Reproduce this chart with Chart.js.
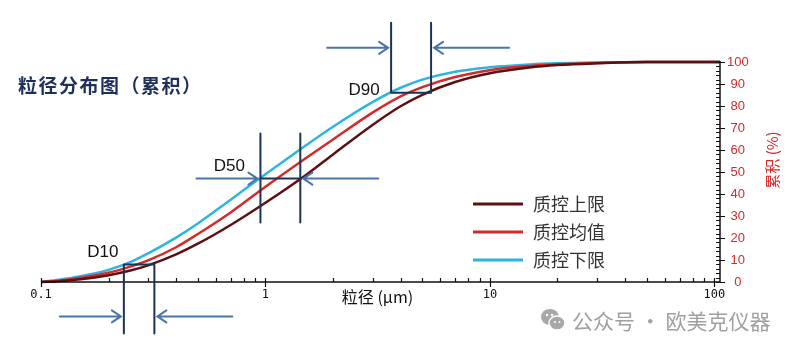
<!DOCTYPE html>
<html lang="zh-CN">
<head>
<meta charset="utf-8"/>
<title>粒径分布图（累积）</title>
<script src="https://cdn.jsdelivr.net/npm/chart.js@4.4.0/dist/chart.umd.min.js"></script>
<style>
    * { margin: 0; padding: 0; box-sizing: border-box; }
    body { width: 800px; height: 350px; background: #fff; overflow: hidden; font-family: "Noto Sans CJK SC", sans-serif; }
    .wrap { position: relative; width: 800px; height: 350px; }
    #psd { position: absolute; left: 0; top: 0; }
    .title { position: absolute; left: 18px; top: 72px; font-size: 19px; font-weight: 700; color: #1f2f5c; letter-spacing: 1.5px; line-height: 26px; }
    .mark { position: absolute; left: 540px; top: 305px; height: 30px; display: flex; align-items: center; color: #a0a0a0; font-size: 21px; white-space: nowrap; }
    .mark svg { margin-right: 6px; }
</style>
</head>
<body>
<div class="wrap">
    <canvas id="psd" width="800" height="350"></canvas>
    <div class="title">粒径分布图（累积）</div>
    <div class="mark">
        <svg width="26" height="24" viewBox="0 0 26 24">
            <ellipse cx="10" cy="9" rx="9" ry="8" fill="#a8a8a8"/>
            <ellipse cx="17" cy="15" rx="8" ry="7" fill="#a8a8a8" stroke="#fff" stroke-width="1.5"/>
            <circle cx="7" cy="7" r="1.2" fill="#fff"/>
            <circle cx="12" cy="7" r="1.2" fill="#fff"/>
            <circle cx="15" cy="14" r="1" fill="#fff"/>
            <circle cx="19.5" cy="14" r="1" fill="#fff"/>
        </svg>
        <span>公众号 · 欧美克仪器</span>
    </div>
</div>
<script>
    // particle size (µm) and cumulative percent for each QC curve
    const sizes      = [0.1, 0.12, 0.15, 0.2, 0.25, 0.3, 0.4, 0.5, 0.7, 1, 1.5, 2, 3, 4, 5, 7, 10, 15, 20, 30, 50, 100, 106];
    const upperLimit = [0, 0.32, 1.2, 3.07, 5.2, 7.57, 12.57, 17.4, 25.9, 36, 48.3, 58, 71.4, 79.9, 85.1, 90.9, 94.9, 97.5, 98.6, 99.4, 100, 100, 100];
    const meanValue  = [0, 0.6, 1.9, 4.2, 7, 9.8, 15.8, 21.8, 31.6, 43.3, 56, 64.8, 77, 84.4, 88.6, 93.2, 96.3, 98.2, 99, 99.6, 100, 100, 100];
    const lowerLimit = [0, 1, 2.6, 5.5, 9, 13, 20.2, 26.6, 37.4, 49, 61.8, 70.6, 81.8, 88.3, 92, 95.6, 97.6, 98.9, 99.4, 99.8, 100, 100, 100];

    const seriesNames  = ['质控上限', '质控均值', '质控下限'];
    const seriesColors = ['#5e1010', '#d42a2a', '#2fb3df'];

    const xTickLabels = [0.1, 1, 10, 100];

    // D10 / D50 / D90 markers: level (%) and where the lower / upper curves cross it
    const dNames  = ['D10', 'D50', 'D90'];
    const dLevels = [8, 47, 86];
    const dFine   = [0.234, 0.95, 3.63];
    const dCoarse = [0.32, 1.43, 5.47];

    const toPoints = arr => sizes.map((s, i) => ({ x: s, y: arr[i] }));

    // pixel styling of the markers: line extents, arrow row, label offset
    const markerStyle = [
        { up: 0,  down: 69, arrowDy: 52,  labelDx: -21, labelDy: -12 },
        { up: 45, down: 44, arrowDy: 0,   labelDx: -31, labelDy: -12 },
        { up: 70, down: 0,  arrowDy: -45, labelDx: -27, labelDy: -2 }
    ];

    function arrow(ctx, x0, y0, x1) {
        const dir = Math.sign(x1 - x0);
        ctx.beginPath();
        ctx.moveTo(x0, y0);
        ctx.lineTo(x1, y0);
        ctx.moveTo(x1 - dir * 9, y0 - 6);
        ctx.lineTo(x1, y0);
        ctx.lineTo(x1 - dir * 9, y0 + 6);
        ctx.stroke();
    }

    const decor = {
        id: 'decor',
        afterDatasetsDraw(chart) {
            const { ctx, chartArea: a, scales: { x, y } } = chart;
            ctx.save();

            // axis lines
            ctx.strokeStyle = '#111';
            ctx.lineWidth = 1.5;
            ctx.beginPath();
            ctx.moveTo(a.left, a.bottom);
            ctx.lineTo(a.right, a.bottom);
            ctx.moveTo(a.right, a.top - 1);
            ctx.lineTo(a.right, a.bottom);
            ctx.stroke();

            // log ticks on x, minor inside, major crossing
            ctx.lineWidth = 1.2;
            ctx.beginPath();
            for (let d = 0.1; d < 200; d *= 10) {
                for (let k = 1; k < 10; k++) {
                    const v = d * k;
                    if (v > x.max) break;
                    const px = Math.round(x.getPixelForValue(v)) + 0.5;
                    ctx.moveTo(px, a.bottom - 4);
                    ctx.lineTo(px, a.bottom + (k === 1 ? 5 : 0));
                }
            }
            // percent ticks on the right axis
            for (let v = 0; v <= 100; v += 2) {
                const py = Math.round(y.getPixelForValue(v)) + 0.5;
                ctx.moveTo(a.right - 4, py);
                ctx.lineTo(a.right + (v % 10 === 0 ? 5 : 0), py);
            }
            ctx.stroke();

            // axis titles
            ctx.fillStyle = '#111';
            ctx.font = '16px "Noto Sans CJK SC"';
            ctx.textAlign = 'center';
            ctx.textBaseline = 'middle';
            ctx.fillText('粒径 (μm)', (a.left + a.right) / 2 - 3, a.bottom + 15);

            ctx.save();
            ctx.translate(772, 160);
            ctx.rotate(-Math.PI / 2);
            ctx.fillStyle = '#d42a2a';
            ctx.font = '15px "Noto Sans CJK SC"';
            ctx.fillText('累积 (%)', 0, 0);
            ctx.restore();

            // legend
            ctx.textAlign = 'left';
            ctx.font = '18px "Noto Sans CJK SC"';
            seriesNames.forEach((name, i) => {
                const ly = 204 + i * 28;
                ctx.strokeStyle = seriesColors[i];
                ctx.lineWidth = 3;
                ctx.beginPath();
                ctx.moveTo(473, ly);
                ctx.lineTo(523, ly);
                ctx.stroke();
                ctx.fillStyle = '#333';
                ctx.fillText(name, 533, ly);
            });

            // D10 / D50 / D90 markers
            ctx.lineCap = 'round';
            dNames.forEach((name, i) => {
                const s = markerStyle[i];
                const py = y.getPixelForValue(dLevels[i]);
                const xf = x.getPixelForValue(dFine[i]);
                const xc = x.getPixelForValue(dCoarse[i]);

                ctx.strokeStyle = '#1c3358';
                ctx.lineWidth = 2;
                ctx.beginPath();
                ctx.moveTo(xf, py - s.up);
                ctx.lineTo(xf, py + s.down);
                ctx.moveTo(xc, py - s.up);
                ctx.lineTo(xc, py + s.down);
                ctx.moveTo(xf, py);
                ctx.lineTo(xc, py);
                ctx.stroke();

                ctx.strokeStyle = '#4a75aa';
                const ay = py + s.arrowDy;
                arrow(ctx, xf - 64, ay, xf - 3);
                arrow(ctx, xc + 78, ay, xc + 3);

                ctx.fillStyle = '#111';
                ctx.font = '17px "Liberation Sans"';
                ctx.textAlign = 'center';
                ctx.fillText(name, xf + s.labelDx, py + s.labelDy);
            });

            ctx.restore();
        }
    };

    new Chart(document.getElementById('psd'), {
        type: 'line',
        data: {
            datasets: [
                { label: seriesNames[0], data: toPoints(upperLimit), borderColor: seriesColors[0] },
                { label: seriesNames[1], data: toPoints(meanValue), borderColor: seriesColors[1] },
                { label: seriesNames[2], data: toPoints(lowerLimit), borderColor: seriesColors[2] }
            ]
        },
        options: {
            responsive: false,
            animation: false,
            events: [],
            layout: { padding: { left: 41, top: 62, right: 0, bottom: 0 } },
            elements: {
                point: { radius: 0 },
                line: { borderWidth: 2.5, cubicInterpolationMode: 'monotone', fill: false }
            },
            datasets: { line: { clip: 4 } },
            plugins: { legend: { display: false }, tooltip: { enabled: false } },
            scales: {
                x: {
                    type: 'logarithmic',
                    min: 0.1,
                    max: 106,
                    grid: { display: false, drawTicks: false },
                    border: { display: false },
                    afterFit: s => { s.height = 68; },
                    ticks: {
                        autoSkip: false,
                        maxRotation: 0,
                        padding: 6,
                        color: '#111',
                        font: { family: 'DejaVu Sans Mono', size: 12 },
                        callback: v => {
                            const t = xTickLabels.find(t => Math.abs(t - v) < t * 1e-6);
                            return t === undefined ? '' : String(t);
                        }
                    }
                },
                y: {
                    position: 'right',
                    min: 0,
                    max: 100,
                    grid: { display: false, drawTicks: false },
                    border: { display: false },
                    afterFit: s => { s.width = 80; },
                    ticks: {
                        stepSize: 10,
                        padding: 7,
                        crossAlign: 'center',
                        color: '#d42a2a',
                        font: { family: 'Liberation Sans', size: 13 }
                    }
                }
            }
        },
        plugins: [decor]
    });
</script>
</body>
</html>
